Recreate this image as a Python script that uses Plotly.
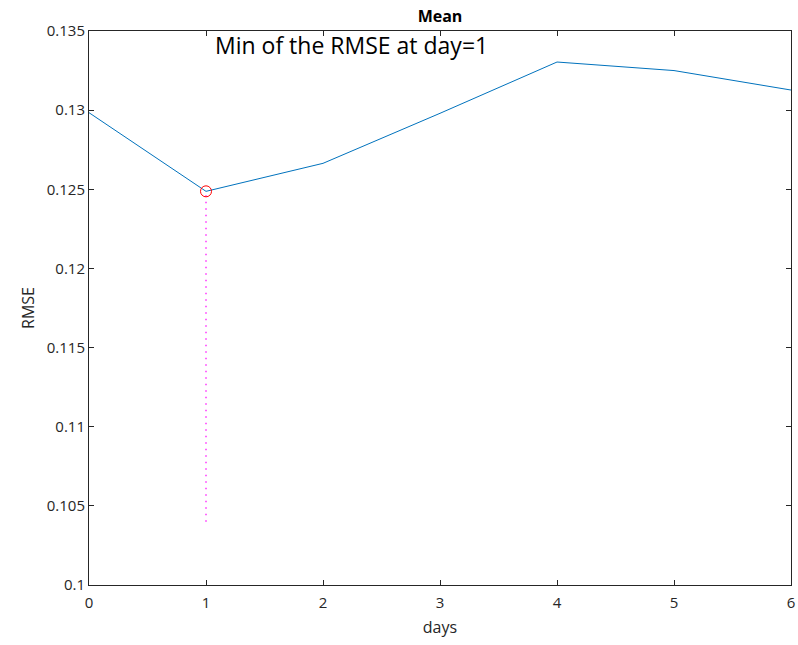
import plotly.graph_objects as go

days = [0, 1, 2, 3, 4, 5, 6]
rmse = [0.12984, 0.12487, 0.12664, 0.12980, 0.13304, 0.13250, 0.13127]
min_day = 1
min_val = 0.12487
drop_bottom = 0.1040
y_ticks = [0.1, 0.105, 0.11, 0.115, 0.12, 0.125, 0.13, 0.135]
y_tick_text = ["0.1", "0.105", "0.11", "0.115", "0.12", "0.125", "0.13", "0.135"]
x_ticks = [0, 1, 2, 3, 4, 5, 6]

font = "Open Sans, Noto Sans, DejaVu Sans, sans-serif"
axcol = "#262626"

fig = go.Figure()
fig.add_trace(go.Scatter(x=days, y=rmse, mode="lines",
                         line=dict(color="#0072BD", width=1), showlegend=False))
fig.add_trace(go.Scatter(x=[min_day, min_day], y=[drop_bottom, min_val], mode="lines",
                         line=dict(color="#FF33FF", width=1.5, dash="1.5px,5px"), showlegend=False))
fig.add_trace(go.Scatter(x=[min_day], y=[min_val], mode="markers",
                         marker=dict(symbol="circle-open", size=11, color="#FF0000",
                                     line=dict(width=1, color="#FF0000")),
                         showlegend=False))

fig.add_annotation(x=1.06, y=0.1341, xref="x", yref="y", text="Min of the RMSE at day=1",
                   showarrow=False, xanchor="left", yanchor="middle",
                   font=dict(family=font, size=23, color="black"))

axis_common = dict(showgrid=False, zeroline=False, showline=True, linecolor=axcol,
                   linewidth=1, mirror="ticks", ticks="inside", ticklen=5,
                   tickcolor=axcol, tickfont=dict(family=font, size=15, color=axcol),
                   automargin=False)

fig.update_xaxes(range=[0, 6], tickvals=x_ticks, ticklabelstandoff=4,
                 title=dict(text="days", font=dict(family=font, size=16, color=axcol), standoff=10),
                 **axis_common)
fig.update_yaxes(range=[0.1, 0.135], tickvals=y_ticks, ticktext=y_tick_text,
                 title=dict(text="RMSE", font=dict(family=font, size=16, color=axcol), standoff=8),
                 **axis_common)

fig.update_layout(
    width=798, height=645,
    margin=dict(l=89, r=7, t=31, b=60, autoexpand=False),
    paper_bgcolor="white", plot_bgcolor="white",
    title=dict(text="<b>Mean</b>", x=(89 + 791) / 2 / 798, xanchor="center", y=1 - 16 / 645, yanchor="middle",
               font=dict(family=font, size=16, color="black")),
)

fig.write_html("out.html", config={"displayModeBar": False},
               post_script="document.body.style.margin='0px';document.body.style.overflow='hidden';")
